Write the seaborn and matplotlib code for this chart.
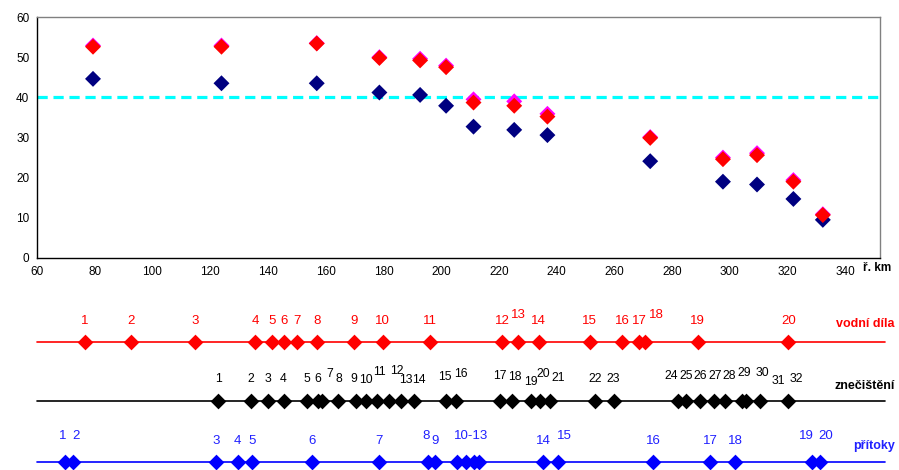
import numpy as np
import pandas as pd
import matplotlib
matplotlib.use("Agg")
import matplotlib.pyplot as plt
import seaborn as sns

# ---------------- data ----------------
km = [79.4, 123.9, 156.9, 178.6, 192.7, 201.7, 211.2, 225.3, 236.8, 272.4, 297.6, 309.4, 322.0, 332.2]
navy_vals = [44.6, 43.5, 43.5, 41.2, 40.6, 37.9, 32.7, 31.9, 30.6, 24.1, 19.0, 18.3, 14.7, 9.5]
magenta_vals = [52.9, 52.9, 53.5, 50.0, 49.6, 47.9, 39.5, 39.0, 35.9, 30.1, 25.0, 26.1, 19.4, 10.9]
red_vals = [52.6, 52.6, 53.4, 49.8, 49.2, 47.5, 38.7, 37.9, 35.2, 29.9, 24.6, 25.6, 19.0, 10.7]
limit_value = 40

x_ticks = [60, 80, 100, 120, 140, 160, 180, 200, 220, 240, 260, 280, 300, 320, 340]
y_ticks = [0, 10, 20, 30, 40, 50, 60]

vd_km = [76.6, 92.5, 114.7, 135.5, 141.5, 145.6, 150.2, 156.9, 169.8, 179.8,
         196.2, 221.2, 226.6, 233.8, 251.4, 262.6, 268.6, 270.7, 288.9, 320.2]
vd_labels = ["1", "2", "3", "4", "5", "6", "7", "8", "9", "10",
             "11", "12", "13", "14", "15", "16", "17", "18", "19", "20"]

zn_km = [122.8, 134.2, 140.1, 145.4, 153.4, 157.4, 158.8, 164.4, 170.4, 174.0,
         177.8, 181.8, 186.1, 190.6, 201.7, 205.0, 220.4, 224.5, 231.1, 234.3,
         237.7, 253.3, 259.7, 282.2, 284.9, 289.6, 294.5, 298.3, 304.3, 305.7,
         310.4, 320.1]
zn_labels = ["1", "2", "3", "4", "5", "6", "7", "8", "9", "10",
             "11", "12", "13", "14", "15", "16", "17", "18", "19", "20",
             "21", "22", "23", "24", "25", "26", "27", "28", "29", "30",
             "31", "32"]

pr_km = [69.7, 72.6, 122.0, 129.5, 134.4, 155.4, 178.3, 195.6, 197.9, 205.4,
         208.6, 211.2, 213.2, 235.4, 240.3, 273.5, 293.2, 301.9, 328.4, 331.3]
pr_labels = ["1", "2", "3", "4", "5", "6", "7", "8", "9", "10-13",
             "", "", "", "14", "15", "16", "17", "18", "19", "20"]

strip_names = ["vodní díla", "znečištění", "přítoky"]

# ---------------- style ----------------
sns.set_style("white")
plt.rcParams["font.family"] = ["Liberation Sans", "DejaVu Sans"]

W, H = 899, 470
fig = plt.figure(figsize=(W / 100, H / 100), dpi=100)
fig.patch.set_facecolor("white")


def px_axes(l, t, r, b):
    return fig.add_axes([l / W, 1 - b / H, (r - l) / W, (b - t) / H])


# ---------------- top chart ----------------
df = pd.concat([
    pd.DataFrame({"km": km, "val": navy_vals, "series": "s1"}),
    pd.DataFrame({"km": km, "val": magenta_vals, "series": "s2"}),
    pd.DataFrame({"km": km, "val": red_vals, "series": "s3"}),
], ignore_index=True)

ax = px_axes(37, 17, 880, 258)
ax.axhline(limit_value, color="#00FFFF", lw=2.3, ls=(0, (3.2, 1.8)), zorder=2)
sns.scatterplot(data=df, x="km", y="val", hue="series",
                palette={"s1": "#000080", "s2": "#FF00FF", "s3": "#FF0000"},
                marker="D", s=66, linewidth=0, legend=False, ax=ax, zorder=3)
ax.set_xlim(60, 352)
ax.set_ylim(0, 60)
ax.set_xticks(x_ticks)
ax.set_yticks(y_ticks)
ax.set_xlabel("")
ax.set_ylabel("")
for sp in ax.spines.values():
    sp.set_visible(True)
    sp.set_color("#000000")
    sp.set_linewidth(1.0)
ax.spines["top"].set_color("#808080")
ax.spines["right"].set_color("#808080")
ax.tick_params(axis="both", direction="out", length=3.5, width=0.8, color="#808080",
               labelsize=8.5, labelcolor="#000000", pad=2)
fig.text(863 / W, 1 - 268 / H, "ř. km", ha="left", va="center",
         fontsize=8.5, fontweight="bold", color="#000000")


# ---------------- strips ----------------
def strip(line_y, xs, labels, color, label_color, name, offsets, base_dy, name_y, fsize):
    sax = px_axes(37, line_y - 30, 880, line_y + 30)
    sax.set_xlim(60, 352)
    sax.set_ylim(-1, 1)
    sax.axis("off")
    sax.axhline(0, xmin=0, xmax=(885 - 37) / (880 - 37), color=color, lw=1.2,
                clip_on=False, zorder=1)
    sns.scatterplot(x=xs, y=np.zeros(len(xs)), color=color, marker="D", s=64,
                    linewidth=0, legend=False, ax=sax, zorder=3, clip_on=False)
    for xv, lab in zip(xs, labels):
        if not lab:
            continue
        dx, dy = offsets.get(lab, (0, base_dy))
        sax.annotate(lab, (xv, 0), xytext=(dx * 0.72, dy * 0.72),
                     textcoords="offset points", ha="center", va="center",
                     fontsize=fsize, color=label_color)
    fig.text(895 / W, 1 - name_y / H, name, ha="right", va="center",
             fontsize=9, fontweight="bold", color=label_color)


vd_off = {"13": (0, 26), "18": (11, 26)}
strip(341.5, vd_km, vd_labels, "#FF0000", "#FF0000", strip_names[0], vd_off, 21, 324, 9.5)

zn_off = {"7": (8, 27), "9": (-2, 22), "10": (0, 21), "11": (2, 29), "12": (8, 30),
          "13": (5, 21), "14": (5, 21),
          "16": (5, 27), "18": (3, 24), "19": (0, 19), "20": (3, 27), "21": (8, 23),
          "24": (-7, 25), "25": (0, 25), "26": (0, 25), "27": (1, 25), "28": (4, 25),
          "29": (2, 28), "30": (16, 28), "31": (18, 20), "32": (8, 22), "17": (0, 25),
          "15": (-1, 24)}
strip(400.7, zn_km, zn_labels, "#000000", "#000000", strip_names[1], zn_off, 21.5, 386, 8.8)

pr_off = {"1": (-2, 26), "2": (3, 26), "8": (-2, 26), "10-13": (14, 26),
          "15": (7, 26), "19": (-5, 26), "20": (5, 26)}
strip(462.3, pr_km, pr_labels, "#0000FF", "#2020FF", strip_names[2], pr_off, 21, 446, 9.5)

fig.savefig("out.png", dpi=100, facecolor="white")
